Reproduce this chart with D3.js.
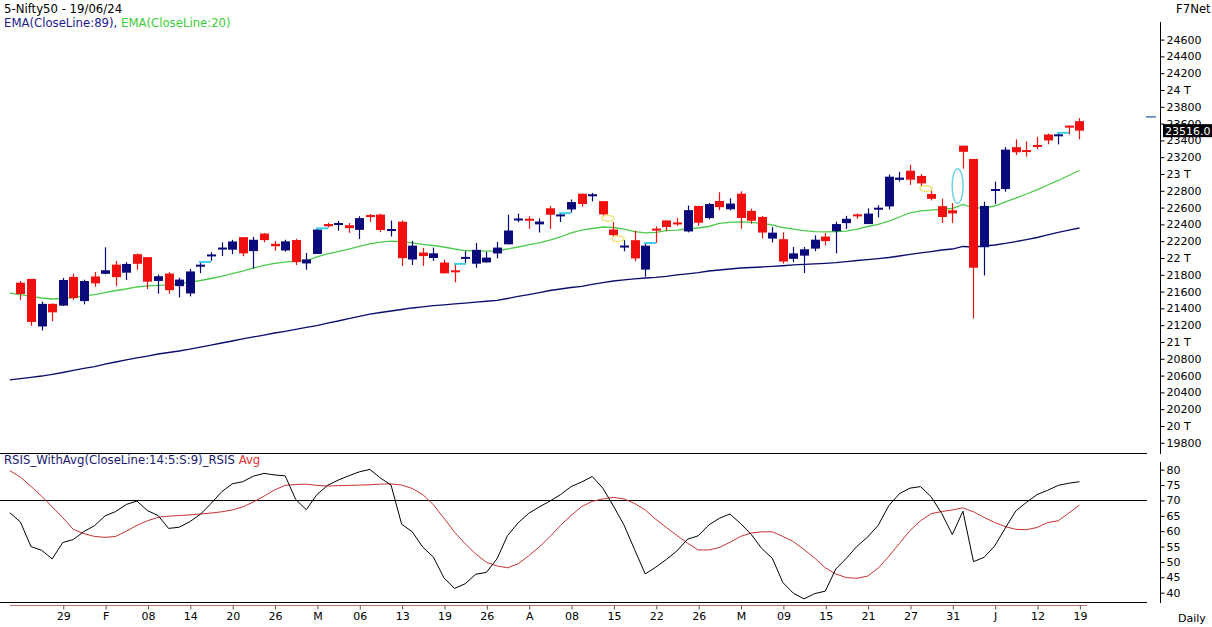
<!DOCTYPE html>
<html><head><meta charset="utf-8">
<script src="https://cdn.jsdelivr.net/npm/d3@7"></script>
<style>
html,body{margin:0;padding:0;background:#fff;}
svg{display:block;font-family:"DejaVu Sans",Verdana,sans-serif;}
</style></head><body>
<svg id="chart" width="1212" height="627"></svg>
<script>
// ---------- DATA ----------
const dates = ["20/01","23/01","24/01","25/01","29/01","30/01","31/01","01/02","02/02","05/02","06/02","07/02","08/02","09/02","12/02","13/02","14/02","15/02","16/02","19/02","20/02","21/02","22/02","23/02","26/02","27/02","28/02","29/02","01/03","02/03","04/03","05/03","06/03","07/03","11/03","12/03","13/03","14/03","15/03","18/03","19/03","20/03","21/03","22/03","26/03","27/03","28/03","01/04","02/04","03/04","04/04","05/04","08/04","09/04","10/04","12/04","15/04","16/04","18/04","19/04","22/04","23/04","24/04","25/04","26/04","29/04","30/04","02/05","03/05","06/05","07/05","08/05","09/05","10/05","13/05","14/05","15/05","16/05","17/05","18/05","21/05","22/05","23/05","24/05","27/05","28/05","29/05","30/05","31/05","03/06","04/06","05/06","06/06","07/06","10/06","11/06","12/06","13/06","14/06","18/06","19/06"];
const opens  = [21706,21751,21185,21454,21433,21775,21487,21780,21812,21921,21825,22045,22010,21727,21815,21665,21578,21906,22020,22103,22099,22248,22082,22291,22169,22090,22214,21935,22048,22404,22404,22390,22335,22505,22517,22330,22432,21982,22065,22000,21946,21843,21990,21932,21947,22054,22163,22455,22458,22400,22592,22500,22578,22765,22740,22677,22339,22125,22212,21862,22340,22447,22421,22316,22620,22475,22679,22580,22766,22561,22489,22231,22224,21990,22028,22112,22255,22319,22415,22513,22404,22576,22614,22930,23039,22977,22762,22617,22568,23337,23179,22128,22798,22821,23320,23283,23344,23470,23455,23570,23629];
const highs  = [21726,21751,21482,21459,21763,21813,21742,21833,22127,21965,21951,22054,22011,21804,21831,21766,21870,21953,22069,22186,22216,22249,22252,22297,22202,22218,22229,22060,22353,22420,22441,22417,22497,22525,22527,22446,22446,22204,22121,22124,21978,21930,22081,22180,22073,22193,22516,22529,22496,22472,22620,22534,22697,22769,22775,22677,22427,22213,22326,22179,22376,22447,22476,22625,22620,22655,22783,22711,22794,22588,22500,22368,22307,22131,22131,22270,22297,22432,22502,22530,22591,22629,22993,23026,23111,22998,22825,22706,22653,23338,23179,22670,22910,23320,23412,23389,23441,23481,23490,23579,23664];
const lows   = [21500,21193,21137,21247,21429,21501,21448,21659,21806,21665,21737,21860,21629,21575,21574,21530,21543,21820,21964,22022,22045,22021,21875,22186,22086,22076,21915,21860,22047,22363,22325,22299,22225,22430,22307,22256,21906,21917,21906,21966,21814,21710,21941,21883,21947,21996,22163,22428,22347,22304,22346,22428,22541,22612,22673,22503,22259,22079,21962,21777,22180,22320,22384,22305,22385,22461,22568,22567,22348,22409,22232,22185,21933,21950,21821,22081,22151,22054,22345,22467,22404,22483,22577,22909,22871,22858,22685,22417,22417,23063,21281,21792,22642,22789,23227,23207,23295,23354,23353,23473,23413];
const closes = [21572,21239,21454,21353,21738,21523,21726,21698,21854,21772,21929,21931,21718,21783,21617,21743,21840,21911,22041,22122,22197,22055,22217,22213,22140,22198,21951,21983,22339,22378,22406,22356,22475,22494,22333,22336,21998,22147,22023,22056,21818,21840,22012,22097,22005,22124,22327,22462,22453,22434,22515,22514,22666,22643,22754,22519,22272,22148,21995,22147,22336,22368,22402,22570,22420,22643,22605,22648,22476,22443,22303,22302,21958,22055,22104,22218,22201,22404,22467,22502,22529,22598,22968,22957,22932,22888,22705,22488,22531,23264,21884,22620,22821,23290,23259,23264,23323,23399,23466,23558,23516];

// indicator series: first value belongs to 19/01 (previous session), then one per date above
const ema89 = [20548,20565,20580,20595,20615,20637,20661,20685,20708,20736,20762,20786,20810,20833,20857,20875,20893,20914,20938,20962,20988,21012,21036,21060,21083,21107,21127,21149,21173,21196,21226,21250,21277,21304,21331,21351,21369,21387,21405,21419,21432,21443,21455,21464,21474,21485,21495,21518,21542,21565,21589,21613,21631,21649,21661,21685,21708,21726,21740,21752,21762,21770,21782,21798,21812,21827,21845,21857,21869,21881,21887,21893,21901,21908,21917,21923,21929,21937,21946,21958,21970,21980,21992,22006,22024,22042,22060,22077,22095,22107,22137,22131,22143,22155,22173,22196,22220,22244,22274,22304,22333,22357];
const ema20 = [21583,21565,21542,21524,21512,21518,21530,21548,21565,21589,21613,21631,21655,21667,21673,21679,21696,21714,21732,21756,21780,21815,21845,21881,21911,21935,21952,21964,21970,22012,22048,22077,22107,22137,22167,22190,22202,22196,22179,22161,22149,22131,22107,22089,22083,22083,22083,22107,22131,22155,22179,22214,22250,22298,22333,22351,22369,22363,22345,22315,22298,22304,22327,22333,22345,22357,22375,22411,22423,22429,22423,22411,22393,22363,22345,22327,22315,22310,22315,22321,22345,22375,22399,22440,22488,22536,22560,22571,22583,22589,22637,22595,22595,22619,22667,22714,22762,22810,22869,22923,22982,23042];
const rsis = [66.0,63.0,55.0,53.8,51.0,56.3,57.3,59.9,61.8,65.0,66.4,68.7,69.8,66.7,65.1,60.9,61.3,63.1,65.5,69.0,72.8,75.4,76.1,77.9,78.8,78.3,78.0,70.3,67.0,71.9,74.9,76.6,78.0,79.3,80.1,77.3,75.0,62.3,59.8,54.8,51.6,44.8,41.4,42.9,46.0,46.6,51.0,58.6,62.7,65.8,67.9,69.8,71.9,74.5,76.0,77.8,74.0,68.2,62.0,54.0,46.1,48.3,50.8,53.6,57.4,58.5,62.0,64.2,65.6,62.5,59.0,54.4,51.2,43.3,39.8,38.0,39.7,40.5,47.7,51.2,55.1,58.1,61.9,68.3,72.2,74.0,74.5,71.2,65.8,58.9,66.5,50.1,51.5,55.2,61.0,66.6,69.4,71.9,73.3,74.9,75.6,76.1];
const rsisAvg = [79.7,77.6,74.6,71.4,67.9,64.4,60.6,59.2,58.3,58.0,58.3,60.0,61.9,63.4,64.5,64.9,65.1,65.3,65.6,65.9,66.3,66.9,67.9,69.5,71.4,73.4,74.9,75.2,75.3,74.9,74.7,74.8,74.9,75.0,75.1,75.3,75.4,75.0,73.9,71.9,68.6,64.2,59.7,55.9,52.6,49.9,48.7,48.1,49.4,52.0,54.9,58.2,61.9,65.1,68.0,69.7,70.5,71.0,70.5,69.0,66.9,63.9,61.2,58.6,56.1,53.9,53.9,54.7,56.4,58.3,59.4,59.8,59.8,58.3,56.6,54.0,51.3,48.1,46.1,44.9,44.7,45.4,48.0,51.8,56.0,60.2,63.4,65.7,66.4,66.9,67.6,66.3,64.5,62.8,61.5,60.6,60.5,61.2,62.8,63.4,65.9,68.5];

const priceTicks = [19800,20000,20200,20400,20600,20800,21000,21200,21400,21600,21800,22000,22200,22400,22600,22800,23000,23200,23400,23600,23800,24000,24200,24400,24600];
const rsiTicks = [40,45,50,55,60,65,70,75,80];
const xTickLabels = ["29","F","08","14","20","26","M","06","13","19","26","A","08","15","22","26","M","09","15","21","27","31","J","12","19"];
const cyanMarkDates = ["15/02","01/03","20/03","05/04","19/04","14/06"];
const yellowMarkDates = ["12/04","15/04","28/05"];
const gapDates = ["31/05","03/06"];
const lastClose = 23516.0;
const sideMarkPrice = 23680;

// ---------- CHART ----------
const svg = d3.select("#chart");
const FONT = 11, TFONT = 11.7;
const FAM = '"DejaVu Sans",Verdana,sans-serif';
const paneRight = 1147, axisX = 1160;

const x = d3.scaleLinear().domain([-1, 100]).range([9.8, 1079.4]);
const yP = d3.scaleLinear().domain([19800, 24600]).range([442.8, 39.6]);
const yR = d3.scaleLinear().domain([40, 80]).range([592.7, 469.7]);
const px = i => Math.round(x(i));

// titles
svg.append("text").attr("x", 4).attr("y", 12.5).attr("font-size", TFONT).attr("fill", "#000").text("5-Nifty50 - 19/06/24");
const t2 = svg.append("text").attr("x", 4).attr("y", 27).attr("font-size", TFONT);
t2.append("tspan").attr("fill", "#1a1a8c").text("EMA(CloseLine:89), ");
t2.append("tspan").attr("fill", "#3ccc3c").text("EMA(CloseLine:20)");
svg.append("text").attr("x", 1176).attr("y", 12.5).attr("font-size", TFONT).attr("fill", "#000").text("F7Net");

// pane separators
svg.append("line").attr("x1", 0).attr("x2", paneRight).attr("y1", 453.5).attr("y2", 453.5).attr("stroke", "#000");
svg.append("line").attr("x1", 0).attr("x2", paneRight).attr("y1", 602.5).attr("y2", 602.5).attr("stroke", "#000");

// price axis
svg.append("line").attr("x1", axisX + 0.5).attr("x2", axisX + 0.5).attr("y1", 22).attr("y2", 454).attr("stroke", "#000");
const fmtP = d => (d % 1000 === 0) ? (d / 1000) + " T" : String(d);
const gP = svg.append("g").attr("transform", `translate(${axisX + 0.5},0)`)
  .call(d3.axisRight(yP).tickValues(priceTicks).tickSize(4).tickPadding(2).tickFormat(fmtP));
gP.select(".domain").remove();
gP.selectAll("text").attr("font-size", FONT).attr("font-family", FAM).attr("fill", "#000");
gP.selectAll("line").attr("stroke", "#000");

// EMA lines
const ind = (arr) => arr.map((v, k) => [k - 1, v]);
const lineP = d3.line().x(d => x(d[0])).y(d => yP(d[1]));
svg.append("path").attr("d", lineP(ind(ema89))).attr("fill", "none").attr("stroke", "#0c0c6e").attr("stroke-width", 1.3);
svg.append("path").attr("d", lineP(ind(ema20))).attr("fill", "none").attr("stroke", "#4ccc4c").attr("stroke-width", 1.3);

// candles
const up = "#0a0a7a", down = "#f01010";
const candles = svg.append("g");
dates.forEach((d, i) => {
  const o = opens[i], c = closes[i], h = highs[i], l = lows[i];
  const col = c >= o ? up : down;
  const cx = px(i);
  candles.append("line").attr("x1", cx + 0.5).attr("x2", cx + 0.5).attr("y1", yP(h)).attr("y2", yP(l)).attr("stroke", col).attr("stroke-width", 1.2);
  const top = yP(Math.max(o, c)), bot = yP(Math.min(o, c));
  const hgt = Math.max(2, bot - top);
  candles.append("rect").attr("x", cx - 4).attr("y", (top + bot) / 2 - hgt / 2).attr("width", 9).attr("height", hgt).attr("fill", col);
});

// markers
cyanMarkDates.forEach(dd => {
  const i = dates.indexOf(dd);
  svg.append("line").attr("x1", px(i) - 1).attr("x2", px(i) + 11).attr("y1", yP(highs[i])).attr("y2", yP(highs[i]))
    .attr("stroke", "#3ed0e6").attr("stroke-width", 2);
});
yellowMarkDates.forEach(dd => {
  const i = dates.indexOf(dd);
  svg.append("ellipse").attr("cx", px(i) + 5).attr("cy", yP(lows[i]) + 2.5).attr("rx", 6).attr("ry", 2.8)
    .attr("fill", "none").attr("stroke", "#f0e47a").attr("stroke-width", 1.5);
});
{
  const a = dates.indexOf(gapDates[0]), b = dates.indexOf(gapDates[1]);
  const yTop = yP(lows[b]), yBot = yP(highs[a]);
  svg.append("ellipse").attr("cx", (x(a) + x(b)) / 2).attr("cy", (yTop + yBot) / 2).attr("rx", 5.5).attr("ry", (yBot - yTop) / 2)
    .attr("fill", "none").attr("stroke", "#6fd2e2").attr("stroke-width", 1.5);
}
svg.append("line").attr("x1", 1146).attr("x2", 1156).attr("y1", yP(sideMarkPrice)).attr("y2", yP(sideMarkPrice)).attr("stroke", "#4a78b0").attr("stroke-width", 1.5);

// last price box
const yl = yP(lastClose);
svg.append("rect").attr("x", 1163).attr("y", yl - 6.5).attr("width", 52).attr("height", 13).attr("fill", "#000");
svg.append("text").attr("x", 1165).attr("y", yl + 4).attr("font-size", FONT).attr("fill", "#fff").text(lastClose.toFixed(1));

// RSI pane
const t3 = svg.append("text").attr("x", 4).attr("y", 464).attr("font-size", TFONT);
t3.append("tspan").attr("fill", "#1a1a6e").text("RSIS_WithAvg(CloseLine:14:5:S:9)_RSIS ");
t3.append("tspan").attr("fill", "#e03030").text("Avg");

svg.append("line").attr("x1", 0).attr("x2", paneRight).attr("y1", Math.round(yR(70)) + 0.5).attr("y2", Math.round(yR(70)) + 0.5).attr("stroke", "#000");
svg.append("line").attr("x1", axisX + 0.5).attr("x2", axisX + 0.5).attr("y1", 462).attr("y2", 603).attr("stroke", "#000");
const gR = svg.append("g").attr("transform", `translate(${axisX + 0.5},0)`)
  .call(d3.axisRight(yR).tickValues(rsiTicks).tickSize(4).tickPadding(2));
gR.select(".domain").remove();
gR.selectAll("text").attr("font-size", FONT).attr("font-family", FAM).attr("fill", "#000");
gR.selectAll("line").attr("stroke", "#000");

const lineR = d3.line().x(d => x(d[0])).y(d => yR(d[1]));
svg.append("path").attr("d", lineR(ind(rsisAvg))).attr("fill", "none").attr("stroke", "#c83232").attr("stroke-width", 1);
svg.append("path").attr("d", lineR(ind(rsis))).attr("fill", "none").attr("stroke", "#000").attr("stroke-width", 1);

// x axis
const tickIdx = xTickLabels.map((_, k) => 4 + 4 * k);
svg.append("line").attr("x1", 10).attr("x2", 1087).attr("y1", 605.5).attr("y2", 605.5).attr("stroke", "#c07070");
const gX = svg.append("g").attr("transform", "translate(0.5,605.5)")
  .call(d3.axisBottom(x).tickValues(tickIdx).tickSize(4).tickPadding(3).tickFormat((d, k) => xTickLabels[k]));
gX.select(".domain").remove();
gX.selectAll("text").attr("font-size", FONT).attr("font-family", FAM).attr("fill", "#000");
gX.selectAll("line").attr("stroke", "#555");

svg.append("text").attr("x", 1178).attr("y", 622).attr("font-size", FONT).attr("fill", "#000").text("Daily");
</script>
</body></html>
